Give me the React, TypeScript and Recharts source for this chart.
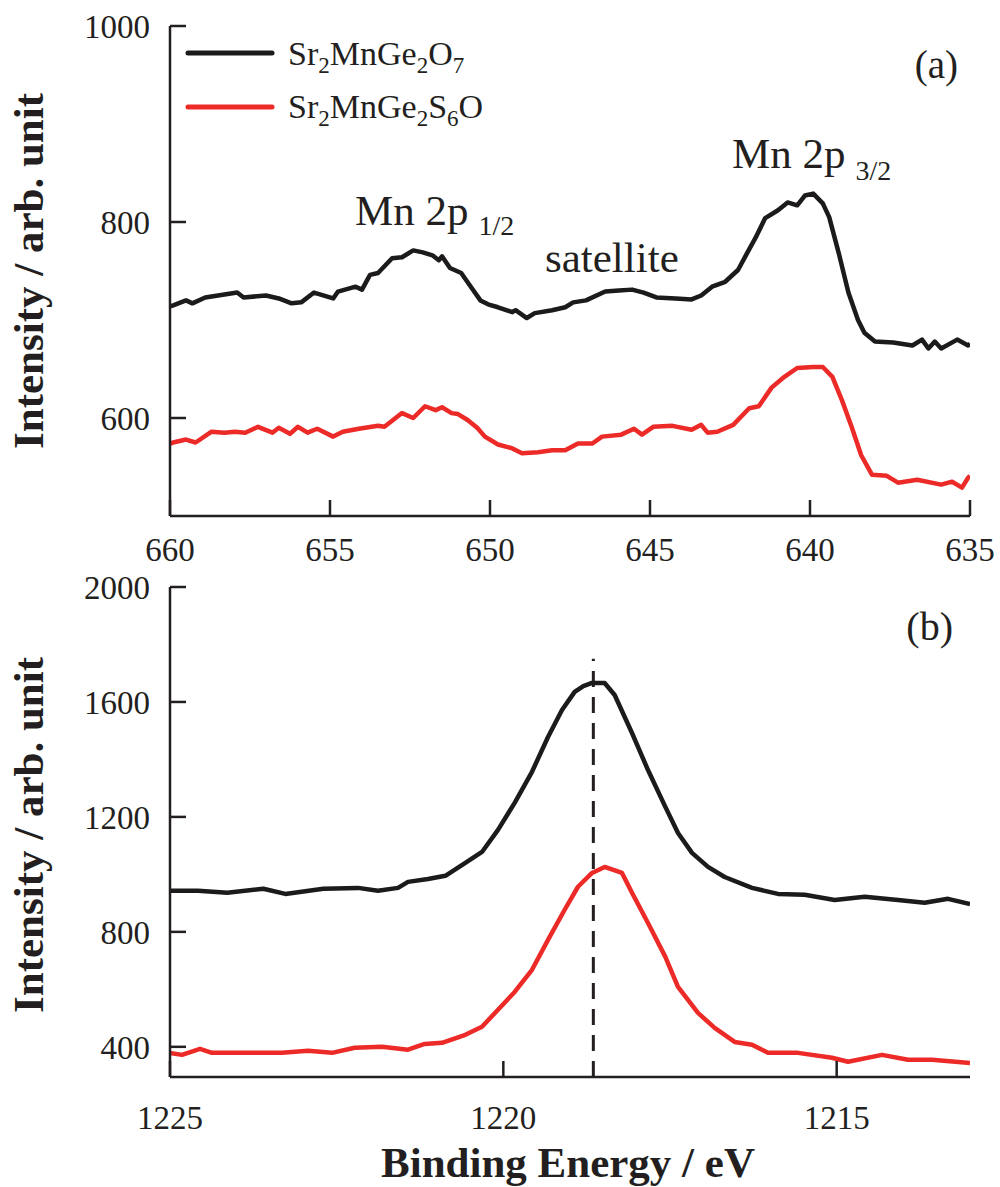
import { Line, LineChart, ReferenceLine, XAxis, YAxis } from "recharts";

// (a) Mn 2p region
const mnEnergyOxide = [
  660, 659.9, 659.5, 659.3, 658.9, 658.5, 657.9, 657.7, 657.0, 656.6, 656.2, 655.9, 655.5, 654.9, 654.75,
  654.2, 654.0, 653.75, 653.5, 653.06, 652.75, 652.4, 652.1, 651.8, 651.6, 651.5, 651.25, 650.9, 650.6,
  650.3, 650.06, 649.75, 649.3, 649.2, 648.85, 648.6, 648.06, 647.65, 647.4, 647.0, 646.4, 645.97, 645.56,
  645.2, 644.8, 644.2, 643.7, 643.4, 643.06, 642.65, 642.25, 641.97, 641.7, 641.4, 641.0, 640.7, 640.4,
  640.16, 639.9, 639.6, 639.4, 639.1, 638.8, 638.5, 638.3, 637.97, 637.4, 636.8, 636.5, 636.3, 636.1,
  635.9, 635.4, 635.06, 635,
];
const mnIntensityOxide = [
  714, 715, 720, 717, 723, 725, 728, 723, 725, 722, 717, 718, 728, 722, 729,
  734, 731, 746, 748, 763, 764, 771, 769, 766, 761, 765, 753, 748, 734,
  720, 716, 713, 708, 710, 702, 707, 710, 713, 718, 720, 729, 730, 731,
  728, 723, 722, 721, 725, 734, 739, 751, 768, 784, 804, 812, 820, 817,
  827, 829, 819, 805, 768, 728, 700, 687, 678, 677, 674, 680, 671, 678,
  671, 680, 674, 676,
];
const mnEnergySulfide = [
  660, 659.9, 659.5, 659.2, 658.7, 658.3, 657.97, 657.65, 657.25, 656.8, 656.6, 656.25, 656, 655.7, 655.4,
  654.9, 654.6, 654.1, 653.5, 653.3, 652.75, 652.4, 652.03, 651.7, 651.5, 651.2, 651, 650.7, 650.4, 650.16,
  649.75, 649.3, 649, 648.5, 648.06, 647.65, 647.25, 646.8, 646.5, 645.9, 645.5, 645.25, 644.9, 644.3,
  643.7, 643.4, 643.2, 642.9, 642.4, 641.9, 641.6, 641.2, 640.8, 640.4, 639.9, 639.6, 639.3, 639.0, 638.7,
  638.4, 638.06, 637.6, 637.25, 636.65, 635.9, 635.56, 635.25, 635.06, 635,
];
const mnIntensitySulfide = [
  574, 575, 578, 575, 586, 585, 586, 585, 591, 585, 590, 584, 591, 585, 589,
  581, 586, 589, 592, 591, 605, 600, 612, 608, 611, 605, 604, 598, 590, 581,
  573, 569, 564, 565, 567, 567, 574, 574, 581, 583, 589, 583, 591, 592,
  588, 593, 585, 586, 593, 610, 612, 631, 642, 651, 652, 652, 642, 618, 591,
  562, 542, 541, 534, 537, 532, 535, 529, 539, 541,
];
const mnTicksX = [660, 655, 650, 645, 640, 635];
const mnTicksY = [600, 800, 1000];

// (b) Ge 2p3/2 region
const geEnergyOxide = [
  1225, 1224.58, 1224.14, 1223.6, 1223.27, 1222.7, 1222.18, 1221.88, 1221.58, 1221.43, 1221.13, 1220.87,
  1220.57, 1220.32, 1220.08, 1219.83, 1219.57, 1219.33, 1219.12, 1218.93, 1218.8, 1218.67, 1218.48,
  1218.33, 1218.07, 1217.83, 1217.57, 1217.38, 1217.17, 1216.93, 1216.68, 1216.27, 1215.88, 1215.48,
  1215.03, 1214.58, 1214.08, 1213.68, 1213.33, 1213.0,
];
const geIntensityOxide = [
  943, 943, 936, 950, 932, 950, 953, 943, 953, 974, 984, 995,
  1040, 1078, 1155, 1249, 1357, 1478, 1572, 1635, 1655, 1666, 1666,
  1624, 1492, 1363, 1235, 1144, 1075, 1026, 991, 953, 932, 929,
  911, 922, 911, 901, 915, 897,
];
const geEnergySulfide = [
  1225, 1224.82, 1224.55, 1224.37, 1223.83, 1223.32, 1222.93, 1222.57, 1222.23, 1221.82, 1221.43, 1221.18,
  1220.92, 1220.57, 1220.32, 1220.08, 1219.83, 1219.57, 1219.33, 1219.08, 1218.88, 1218.67, 1218.48,
  1218.22, 1218.07, 1217.83, 1217.57, 1217.38, 1217.08, 1216.83, 1216.53, 1216.27, 1216.03, 1215.58,
  1215.07, 1214.83, 1214.32, 1213.93, 1213.57, 1213.0,
];
const geIntensitySulfide = [
  379, 372, 393, 379, 379, 379, 386, 379, 397, 400, 390, 410,
  414, 442, 470, 529, 591, 668, 772, 877, 957, 1005, 1026,
  1005, 936, 831, 713, 609, 518, 466, 417, 407, 379, 379,
  362, 348, 372, 355, 355, 344,
];
const geTicksX = [1225, 1220, 1215];
const geTicksY = [400, 800, 1200, 1600, 2000];
const gePeakEnergy = 1218.65;

const toPoints = (xs: number[], ys: number[]) => xs.map((x, i) => ({ x, y: ys[i] }));

const INK = "#231f20";
const RED = "#ec2a27";
const SERIF = "Liberation Serif, Times New Roman, serif";

const tickStyle = { fill: INK, fontSize: 33, fontFamily: SERIF, style: { fontFamily: SERIF } };
const axisLine = { stroke: INK, strokeWidth: 2.5 };

function Panel({
  oxide,
  sulfide,
  xDomain,
  yDomain,
  xTicks,
  yTicks,
  height,
  marginTop,
  xAxisHeight,
  xTickMargin,
  children,
}: {
  oxide: { x: number; y: number }[];
  sulfide: { x: number; y: number }[];
  xDomain: [number, number];
  yDomain: [number, number];
  xTicks: number[];
  yTicks: number[];
  height: number;
  marginTop: number;
  xAxisHeight: number;
  xTickMargin: number;
  children?: React.ReactNode;
}) {
  return (
    <LineChart
      width={1000}
      height={height}
      margin={{ top: marginTop, right: 30, bottom: 0, left: 0 }}
      style={{ fontFamily: SERIF }}
    >
      <XAxis
        dataKey="x"
        type="number"
        domain={xDomain}
        ticks={xTicks}
        reversed
        allowDataOverflow
        interval={0}
        height={xAxisHeight}
        tickSize={-16}
        tickMargin={xTickMargin}
        tick={tickStyle}
        tickLine={axisLine}
        axisLine={axisLine}
      />
      <XAxis
        xAxisId="top"
        orientation="top"
        type="number"
        domain={xDomain}
        height={0}
        tick={false}
        tickLine={false}
        axisLine={axisLine}
      />
      <YAxis
        type="number"
        domain={yDomain}
        ticks={yTicks}
        allowDataOverflow
        interval={0}
        width={170}
        tickSize={-16}
        tickMargin={36}
        tick={tickStyle}
        tickLine={axisLine}
        axisLine={axisLine}
      />
      <YAxis
        yAxisId="right"
        orientation="right"
        type="number"
        domain={yDomain}
        width={0}
        tick={false}
        tickLine={false}
        axisLine={axisLine}
      />
      {children}
      <Line
        data={oxide}
        dataKey="y"
        type="linear"
        stroke="#1c1a1a"
        strokeWidth={4.5}
        strokeLinejoin="round"
        dot={false}
        isAnimationActive={false}
      />
      <Line
        data={sulfide}
        dataKey="y"
        type="linear"
        stroke={RED}
        strokeWidth={4.5}
        strokeLinejoin="round"
        dot={false}
        isAnimationActive={false}
      />
    </LineChart>
  );
}

export default function App() {
  const textProps = { fill: INK, fontFamily: SERIF, style: { fontFamily: SERIF } };
  return (
    <div
      style={{
        position: "absolute",
        left: 0,
        top: 0,
        width: 1000,
        height: 1187,
        background: "#fff",
        fontFamily: SERIF,
      }}
    >
      <div style={{ position: "absolute", left: 0, top: 0 }}>
        <Panel
          oxide={toPoints(mnEnergyOxide, mnIntensityOxide)}
          sulfide={toPoints(mnEnergySulfide, mnIntensitySulfide)}
          xDomain={[635, 660]}
          yDomain={[500, 1000]}
          xTicks={mnTicksX}
          yTicks={mnTicksY}
          height={580}
          marginTop={26}
          xAxisHeight={64}
          xTickMargin={38}
        />
      </div>
      <div style={{ position: "absolute", left: 0, top: 560 }}>
        <Panel
          oxide={toPoints(geEnergyOxide, geIntensityOxide)}
          sulfide={toPoints(geEnergySulfide, geIntensitySulfide)}
          xDomain={[1213, 1225]}
          yDomain={[295, 2000]}
          xTicks={geTicksX}
          yTicks={geTicksY}
          height={627}
          marginTop={27}
          xAxisHeight={110}
          xTickMargin={45}
        >
          <ReferenceLine
            segment={[
              { x: gePeakEnergy, y: 295 },
              { x: gePeakEnergy, y: 1750 },
            ]}
            stroke={INK}
            strokeWidth={3}
            strokeDasharray="16 10"
          />
        </Panel>
      </div>
      <svg
        width={1000}
        height={1187}
        style={{ position: "absolute", left: 0, top: 0, pointerEvents: "none", fontFamily: SERIF }}
      >
        {/* legend */}
        <line x1={188} y1={53} x2={272} y2={53} stroke="#1c1a1a" strokeWidth={5} strokeLinecap="round" />
        <line x1={188} y1={107} x2={272} y2={107} stroke={RED} strokeWidth={5} strokeLinecap="round" />
        <text x={288} y={65} fontSize={34} {...textProps}>
          Sr<tspan fontSize={23} dy={8}>2</tspan>
          <tspan dy={-8}>MnGe</tspan>
          <tspan fontSize={23} dy={8}>2</tspan>
          <tspan dy={-8}>O</tspan>
          <tspan fontSize={23} dy={8}>7</tspan>
        </text>
        <text x={288} y={118} fontSize={34} {...textProps}>
          Sr<tspan fontSize={23} dy={8}>2</tspan>
          <tspan dy={-8}>MnGe</tspan>
          <tspan fontSize={23} dy={8}>2</tspan>
          <tspan dy={-8}>S</tspan>
          <tspan fontSize={23} dy={8}>6</tspan>
          <tspan dy={-8}>O</tspan>
        </text>

        {/* panel tags */}
        <text x={958} y={78} fontSize={39} textAnchor="end" {...textProps}>(a)</text>
        <text x={953} y={640} fontSize={40} textAnchor="end" {...textProps}>(b)</text>

        {/* peak annotations */}
        <text x={355} y={225} fontSize={43} {...textProps}>
          Mn 2p<tspan fontSize={28} dx={10} dy={10}>1/2</tspan>
        </text>
        <text x={545} y={272} fontSize={43} {...textProps}>satellite</text>
        <text x={732} y={168} fontSize={43} {...textProps}>
          Mn 2p<tspan fontSize={28} dx={10} dy={12}>3/2</tspan>
        </text>

        {/* axis titles */}
        <text transform="translate(43,271) rotate(-90)" textAnchor="middle" fontSize={43} fontWeight="bold" {...textProps}>
          Intensity / arb. unit
        </text>
        <text transform="translate(43,835) rotate(-90)" textAnchor="middle" fontSize={43} fontWeight="bold" {...textProps}>
          Intensity / arb. unit
        </text>
        <text x={568} y={1177} textAnchor="middle" fontSize={43} fontWeight="bold" {...textProps}>
          Binding Energy / eV
        </text>
      </svg>
    </div>
  );
}
